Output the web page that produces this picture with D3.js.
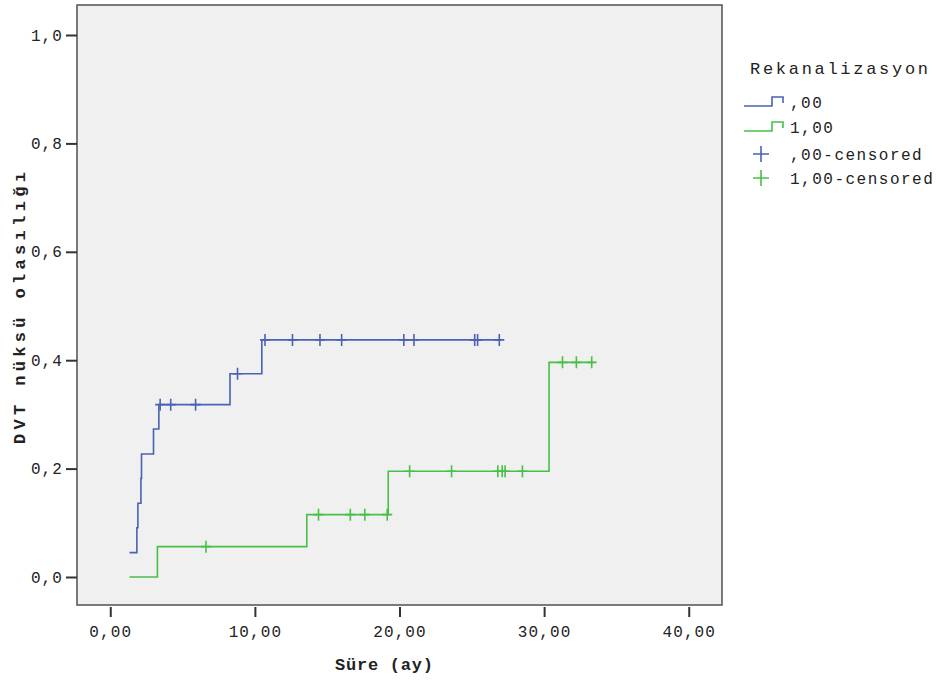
<!DOCTYPE html>
<html>
<head>
<meta charset="utf-8">
<script src="https://cdn.jsdelivr.net/npm/d3@7"></script>
<style>
  body { margin: 0; background: #fff; }
  text { font-family: "Liberation Mono", "DejaVu Sans Mono", monospace; fill: #222; }
</style>
</head>
<body>
<div id="chart"></div>
<script>
// step curves: time (ay) and cumulative value
const blueTimes  = [1.33, 1.84, 1.91, 2.12, 2.16, 2.99, 3.36, 8.28, 10.48, 27.0];
const blueValues = [0.045, 0.091, 0.136, 0.182, 0.227, 0.273, 0.318, 0.375, 0.4375, 0.4375];
const blueCensored = [3.45, 4.18, 5.9, 8.8, 10.7, 12.6, 14.5, 16.0, 20.3, 21.0, 25.2, 25.4, 26.9];

const greenTimes  = [1.33, 3.26, 13.59, 19.22, 30.34, 33.4];
const greenValues = [0.0, 0.056, 0.115, 0.195, 0.396, 0.396];
const greenCensored = [6.62, 14.4, 16.6, 17.6, 19.15, 20.7, 23.6, 26.8, 27.1, 27.3, 28.5, 31.27, 32.23, 33.29];

const xTicks = [0, 10, 20, 30, 40];
const yTicks = [0, 0.2, 0.4, 0.6, 0.8, 1.0];
const legendLabels = [",00", "1,00", ",00-censored", "1,00-censored"];

const W = 941, H = 688;
const m = {t: 5, r: 219, b: 83, l: 77};
const blue = "#4a62b6", green = "#48c048";

const x = d3.scaleLinear().domain([-2.3, 42.3]).range([m.l, W - m.r]);
const y = d3.scaleLinear().domain([0, 1]).range([577, 35]);

const svg = d3.select("#chart").append("svg")
  .attr("width", W)
  .attr("height", H);

// plot background
svg.append("rect")
  .attr("x", m.l).attr("y", m.t)
  .attr("width", W - m.r - m.l).attr("height", H - m.b - m.t)
  .attr("fill", "#f0f0f0")
  .attr("stroke", "#5a5a5a")
  .attr("stroke-width", 1.6);

// x axis
const axisX = d3.axisBottom(x).tickValues(xTicks).tickSize(10).tickPadding(6)
  .tickFormat(d => d.toFixed(2).replace(".", ","));
const gx = svg.append("g").attr("transform", `translate(0,${H - m.b + 2})`).call(axisX);
gx.select(".domain").remove();
gx.selectAll(".tick line").attr("stroke", "#333").attr("stroke-width", 2);
gx.selectAll(".tick text").attr("font-size", 16).attr("letter-spacing", 1.1)
  .attr("font-family", "Liberation Mono").attr("fill", "#1a1a1a").attr("dy", "0.9em");

// y axis
const axisY = d3.axisLeft(y).tickValues(yTicks).tickSize(11).tickPadding(3)
  .tickFormat(d => d.toFixed(1).replace(".", ","));
const gy = svg.append("g").attr("transform", `translate(${m.l},0)`).call(axisY);
gy.select(".domain").remove();
gy.selectAll(".tick line").attr("stroke", "#333").attr("stroke-width", 2);
gy.selectAll(".tick text").attr("font-size", 16).attr("letter-spacing", 1.1)
  .attr("font-family", "Liberation Mono").attr("fill", "#1a1a1a");

// axis titles
svg.append("text")
  .attr("x", 384).attr("y", 670)
  .attr("text-anchor", "middle")
  .attr("font-size", 17).attr("font-weight", "bold")
  .attr("textLength", 98).attr("lengthAdjust", "spacing")
  .text("Süre (ay)");

svg.append("text")
  .attr("transform", "translate(25,308) rotate(-90)")
  .attr("text-anchor", "middle")
  .attr("font-size", 17).attr("font-weight", "bold")
  .attr("textLength", 272).attr("lengthAdjust", "spacing")
  .text("DVT nüksü olasılığı");

// step curves
const line = d3.line().x(d => x(d[0])).y(d => y(d[1])).curve(d3.curveStepAfter);

function stepAt(times, values, t) {
  const i = d3.bisectRight(times, t) - 1;
  return values[Math.max(0, i)];
}

const groups = [
  {times: blueTimes, values: blueValues, cens: blueCensored, color: blue},
  {times: greenTimes, values: greenValues, cens: greenCensored, color: green}
];

groups.forEach(g => {
  svg.append("path")
    .datum(d3.zip(g.times, g.values))
    .attr("d", line)
    .attr("fill", "none")
    .attr("stroke", g.color)
    .attr("stroke-width", 1.6);

  svg.selectAll(null)
    .data(g.cens)
    .enter()
    .append("path")
    .attr("d", d => {
      const cx = x(d), cy = y(stepAt(g.times, g.values, d));
      return `M${cx - 5},${cy}H${cx + 5}M${cx},${cy - 6}V${cy + 6}`;
    })
    .attr("stroke", g.color)
    .attr("stroke-width", 1.6)
    .attr("fill", "none");
});

// legend
const lg = svg.append("g");
lg.append("text")
  .attr("x", 750).attr("y", 74)
  .attr("font-size", 17)
  .attr("textLength", 178).attr("lengthAdjust", "spacing")
  .text("Rekanalizasyon");

const legendColors = [blue, green, blue, green];
const legendY = [108, 133, 160, 184];
legendLabels.forEach((lab, i) => {
  const yy = legendY[i];
  if (i < 2) {
    const low = yy - 2;
    lg.append("path")
      .attr("d", `M744,${low}H772V${low - 9}H783V${low - 3}`)
      .attr("fill", "none").attr("stroke", legendColors[i]).attr("stroke-width", 1.6);
  } else {
    const cy = yy - 6;
    lg.append("path")
      .attr("d", `M753,${cy}H769M761,${cy - 8}V${cy + 8}`)
      .attr("fill", "none").attr("stroke", legendColors[i]).attr("stroke-width", 1.6);
  }
  lg.append("text")
    .attr("x", 790).attr("y", yy)
    .attr("font-size", 16).attr("letter-spacing", 1.5)
    .text(lab);
});
</script>
</body>
</html>
